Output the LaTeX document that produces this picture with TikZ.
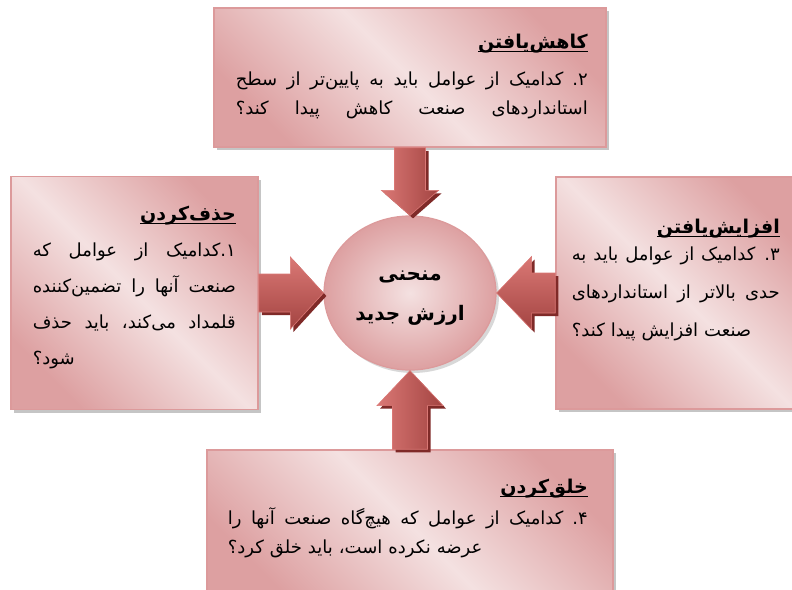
\documentclass[tikz,border=0pt]{standalone}
\usepackage{fontspec}
\usepackage{tikz}
\usetikzlibrary{shapes,arrows,positioning,calc,shadows}
\newfontfamily\fa[Script=Arabic]{DejaVu Sans}
\TeXXeTstate=1

\definecolor{boxdark}{HTML}{DDA0A1}
\definecolor{boxlight}{HTML}{F4E1E1}
\definecolor{boxline}{HTML}{DC9A9B}
\definecolor{arrowred}{HTML}{C0504D}
\definecolor{arrowlight}{HTML}{DA7875}
\definecolor{arrowdark}{HTML}{7F2A28}

\newsavebox{\headbox}
\newcommand{\headline}[1]{\sbox{\headbox}{\beginR#1\endR}\usebox{\headbox}\llap{\rule[-4pt]{\wd\headbox}{1.3pt}}}
\newcommand{\fullline}[1]{\makebox[\linewidth][s]{\spaceskip=.3em plus 1fil\beginR#1\endR}}
\newcommand{\lastline}[1]{\beginR#1\endR}
% block arrow: style, from, to, half shaft, half head, head length
\newcommand{\blockarrow}[6]{%
  \coordinate (ba) at ($(#3)!#6!(#2)$);
  \path[fill=arrowdark, transform canvas={shift={(3,3)}}] ($(#2)!#4!90:(#3)$) -- ($(ba)!#4!-90:(#2)$) -- ($(ba)!#5!-90:(#2)$) -- (#3) -- ($(ba)!#5!90:(#2)$) -- ($(ba)!#4!90:(#2)$) -- ($(#2)!#4!-90:(#3)$) -- cycle;
  \path[#1] ($(#2)!#4!90:(#3)$) -- ($(ba)!#4!-90:(#2)$) -- ($(ba)!#5!-90:(#2)$) -- (#3) -- ($(ba)!#5!90:(#2)$) -- ($(ba)!#4!90:(#2)$) -- ($(#2)!#4!-90:(#3)$) -- cycle;
}

\begin{document}
\begin{tikzpicture}[
    x=1pt, y=-1pt,
    box/.style={rectangle, draw=boxline, line width=1.5pt, left color=boxdark, right color=boxdark, middle color=boxlight, shading angle=135, drop shadow={shadow xshift=3pt, shadow yshift=-3pt, fill=black!45}},
    valuecircle/.style={ellipse, draw=boxline, line width=1.2pt, inner color=boxlight, outer color=boxdark, minimum width=172, minimum height=154, drop shadow={shadow xshift=3pt, shadow yshift=-3pt, fill=black!30}},
    valuetext/.style={align=center, inner sep=0pt, font=\fa\bfseries\fontsize{20}{40}\selectfont},
    boxtitle/.style={anchor=base east, inner sep=0pt, font=\fa\bfseries\fontsize{19}{24}\selectfont},
    boxtext/.style={anchor=base east, inner sep=0pt, align=left, font=\fa\fontsize{18}{#1}\selectfont},
    varrow/.style={draw=arrowlight, line width=0.6pt, left color=arrowlight, middle color=arrowred, right color=arrowred!85!black},
    harrow/.style={draw=arrowlight, line width=0.6pt, top color=arrowlight, middle color=arrowred, bottom color=arrowred!85!black}
]
\useasboundingbox (0,0) rectangle (792,589);
\clip (0,0) rectangle (792,589);

\node[box, minimum width=392, minimum height=139] (reduce) at (410,77.5) {};
\node[box, minimum width=247, minimum height=233] (remove) at (134.5,293) {};
\node[box, minimum width=244, minimum height=232] (raise) at (678,293) {};
\node[box, minimum width=406, minimum height=150] (create) at (410,525) {};

\node[boxtitle] (reduce-title) at (588,48) {\headline{کاهش^^^^200cیافتن}};
\node[boxtext=29, text width=352] (reduce-text) at (588,85) {%
  \fullline{۲. کدامیک از عوامل باید به پایین^^^^200cتر از سطح}\\
  \fullline{استانداردهای صنعت کاهش پیدا کند؟}};

\node[boxtitle] (remove-title) at (236,220) {\headline{حذف^^^^200cکردن}};
\node[boxtext=36, text width=203] (remove-text) at (236,256) {%
  \fullline{۱.کدامیک از عوامل که}\\
  \fullline{صنعت آنها را تضمین^^^^200cکننده}\\
  \fullline{قلمداد می^^^^200cکند، باید حذف}\\
  \lastline{شود؟}};

\node[boxtitle] (raise-title) at (780,233) {\headline{افزایش^^^^200cیافتن}};
\node[boxtext=38, text width=208] (raise-text) at (780,260) {%
  \fullline{۳. کدامیک از عوامل باید به}\\
  \fullline{حدی بالاتر از استانداردهای}\\
  \lastline{صنعت افزایش پیدا کند؟}};

\node[boxtitle] (create-title) at (588,493) {\headline{خلق^^^^200cکردن}};
\node[boxtext=29, text width=360] (create-text) at (588,524) {%
  \fullline{۴. کدامیک از عوامل که هیچ^^^^200cگاه صنعت آنها را}\\
  \lastline{عرضه نکرده است، باید خلق کرد؟}};

\node[valuecircle] (value) at (410,293) {};
\node[valuetext] (value-text) at (410,298) {\beginR منحنی\endR\\\beginR ارزش جدید\endR};

\blockarrow{varrow}{reduce.south}{value.north}{15.5pt}{28.5pt}{25pt}
\blockarrow{harrow}{remove.east}{value.west}{19pt}{36pt}{33pt}
\blockarrow{harrow}{raise.west}{value.east}{20pt}{36.5pt}{35pt}
\blockarrow{varrow}{create.north}{value.south}{17.5pt}{33pt}{35pt}

\end{tikzpicture}
\end{document}
